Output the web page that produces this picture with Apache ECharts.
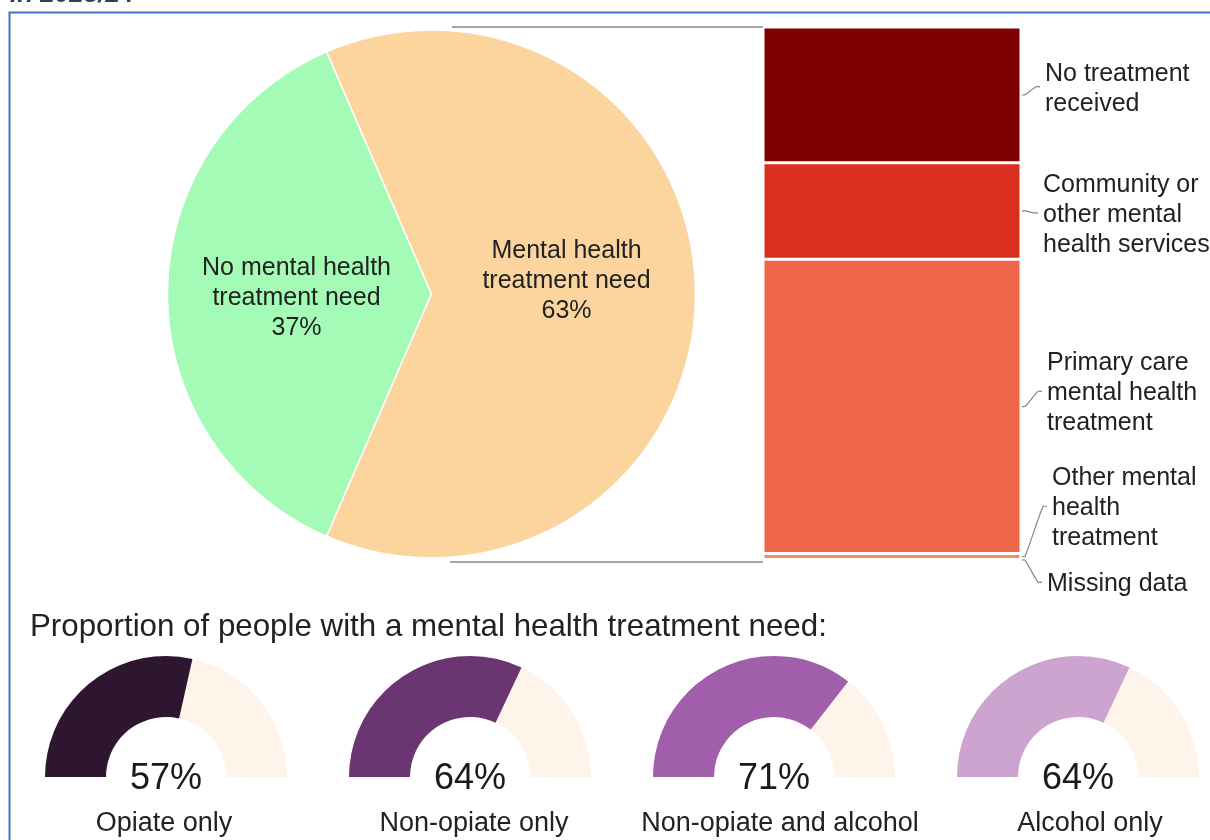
<!DOCTYPE html>
<html>
<head>
<meta charset="utf-8">
<title>Mental health treatment need</title>
<script src="https://cdn.jsdelivr.net/npm/echarts@6/dist/echarts.min.js"></script>
<style>
  html, body { margin: 0; padding: 0; background: #ffffff; }
  #chart { width: 1210px; height: 840px; }
</style>
</head>
<body>
<div id="chart"></div>
<script>
// Share of people with / without a mental health treatment need (%)
const needNames = ['No mental health\ntreatment need', 'Mental health\ntreatment need'];
const needShares = [37, 63];

// Breakdown of treatment received among those with a need (% of the need group)
const treatCats = [
  'No treatment\nreceived',
  'Community or\nother mental\nhealth services',
  'Primary care\nmental health\ntreatment',
  'Other mental\nhealth\ntreatment',
  'Missing data'
];
const treatShares = [25.4, 18.1, 55.1, 1.1, 0.3];

// Proportion with a mental health treatment need, by substance group (%)
const substanceGroups = ['Opiate only', 'Non-opiate only', 'Non-opiate and alcohol', 'Alcohol only'];
const needRates = [57, 64, 71, 64];

// ---- styling / layout ----
const FONT = '"Liberation Sans", Arial, Helvetica, sans-serif';
const TEXT = '#222222';
const pieColors = ['#a3fbb6', '#fcd49e'];
const barColors = ['#7f0000', '#d9301f', '#ee654a', '#f68c60', '#fbb48a'];
const gaugeColors = ['#2e1630', '#6b3571', '#a15eab', '#cda4d0'];
const gaugeRest = '#fff4e9';
// label placement beside the bar: [gap from bar edge, vertical shift from segment centre]
const barLabelNudge = [[24, -6], [22, 4], [26, -13], [31, -48], [26, 24]];
const pieLabelShift = [[0, 4], [0, -13]];
const gaugeCentersX = [166, 470, 774, 1078];
const gaugeNameShift = [-2, 4, 6, 12];

const BAR_GRID = { left: 763, top: 27, width: 258, height: 534 };

const chart = echarts.init(document.getElementById('chart'), null, { renderer: 'canvas' });

const pieCenter = [431.5, 294];
const pieRadius = 264;
// left slice centred on the 9 o'clock direction
const pieStart = 180 + needShares[0] / 100 * 180;

const series = [];

series.push({
  type: 'pie',
  center: pieCenter,
  radius: pieRadius,
  startAngle: pieStart,
  clockwise: true,
  silent: true,
  z: 3,
  itemStyle: { borderColor: '#ffffff', borderWidth: 1.5 },
  label: {
    show: true,
    position: 'inside',
    formatter: '{b}\n{c}%',
    fontSize: 25,
    lineHeight: 30,
    color: TEXT,
    fontFamily: FONT
  },
  labelLine: { show: false },
  data: needNames.map((n, i) => ({
    name: n,
    value: needShares[i],
    itemStyle: { color: pieColors[i] },
    label: { offset: pieLabelShift[i] }
  }))
});

treatCats.forEach((name, i) => {
  series.push({
    type: 'bar',
    name: name,
    stack: 'need',
    barWidth: '100%',
    silent: true,
    data: [treatShares[i]],
    itemStyle: { color: barColors[i], borderColor: '#ffffff', borderWidth: 1.5 },
    label: {
      show: true,
      position: 'right',
      distance: barLabelNudge[i][0],
      offset: [0, barLabelNudge[i][1]],
      formatter: '{a}',
      align: 'left',
      fontSize: 25,
      lineHeight: 30,
      color: TEXT,
      fontFamily: FONT
    }
  });
});

substanceGroups.forEach((name, i) => {
  series.push({
    type: 'gauge',
    center: [gaugeCentersX[i], 777],
    radius: 121,
    startAngle: 180,
    endAngle: 0,
    min: 0,
    max: 100,
    silent: true,
    axisLine: { roundCap: false, lineStyle: { width: 61, color: [[1, gaugeRest]] } },
    progress: { show: true, width: 61, roundCap: false, itemStyle: { color: gaugeColors[i] } },
    pointer: { show: false },
    anchor: { show: false },
    axisTick: { show: false },
    splitLine: { show: false },
    axisLabel: { show: false },
    title: {
      offsetCenter: [gaugeNameShift[i], 47],
      fontSize: 27,
      color: TEXT,
      fontFamily: FONT
    },
    detail: {
      offsetCenter: [0, 2],
      formatter: '{value}%',
      fontSize: 36,
      fontWeight: 'normal',
      lineHeight: 40,
      color: '#1a1a1a',
      fontFamily: FONT
    },
    data: [{ value: needRates[i], name: name }]
  });
});

const baseGraphics = [
  {
    type: 'text',
    left: 10,
    top: -18,
    silent: true,
    style: {
      text: 'in 2023/24',
      font: 'italic bold 26px ' + FONT,
      fill: '#34404f'
    }
  },
  {
    type: 'rect',
    silent: true,
    z: 0,
    shape: { x: 9.5, y: 12.5, width: 1400, height: 1000 },
    style: { fill: 'none', stroke: '#4472c4', lineWidth: 2 }
  },
  {
    type: 'line',
    silent: true,
    z: 1,
    shape: { x1: 452, y1: 27, x2: BAR_GRID.left, y2: 27 },
    style: { stroke: '#a6a6a6', lineWidth: 2 }
  },
  {
    type: 'line',
    silent: true,
    z: 1,
    shape: { x1: 450, y1: 562, x2: BAR_GRID.left, y2: 562 },
    style: { stroke: '#a6a6a6', lineWidth: 2 }
  }
];

const option = {
  animation: false,
  backgroundColor: '#ffffff',
  textStyle: { fontFamily: FONT },
  title: [{
    text: 'Proportion of people with a mental health treatment need:',
    left: 30,
    top: 609,
    padding: 0,
    textStyle: { fontSize: 31.3, fontWeight: 'normal', color: TEXT, lineHeight: 36, fontFamily: FONT }
  }],
  grid: Object.assign({ containLabel: false }, BAR_GRID),
  xAxis: { type: 'category', data: ['Mental health treatment need'], show: false },
  yAxis: { type: 'value', min: 0, max: 100, inverse: true, show: false },
  graphic: baseGraphics,
  series: series
};

chart.setOption(option);

// Leader lines from each bar segment to its label, placed through the value axis
const barRight = BAR_GRID.left + BAR_GRID.width;
const leaders = [];
let running = 0;
treatShares.forEach((v, i) => {
  const yTop = chart.convertToPixel({ yAxisIndex: 0 }, running);
  const yBot = chart.convertToPixel({ yAxisIndex: 0 }, running + v);
  running += v;
  const segMid = (yTop + yBot) / 2;
  const labelLeft = barRight + barLabelNudge[i][0];
  const labelMid = segMid + barLabelNudge[i][1] - 2;
  leaders.push({
    type: 'polyline',
    silent: true,
    z: 5,
    shape: {
      points: [
        [barRight + 1, segMid],
        [barRight + 4, segMid],
        [labelLeft - 9, labelMid],
        [labelLeft - 5, labelMid]
      ],
      smooth: 0.25
    },
    style: { stroke: '#858585', lineWidth: 1.2, fill: null }
  });
});
chart.setOption({ graphic: baseGraphics.concat(leaders) });
</script>
</body>
</html>
